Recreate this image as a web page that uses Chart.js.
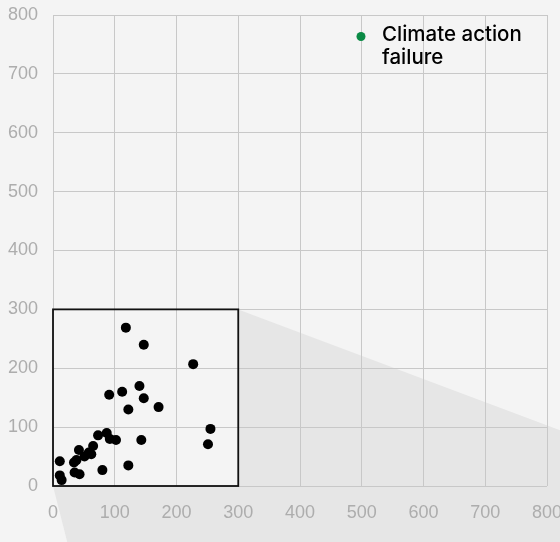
<!DOCTYPE html>
<html>
<head>
<meta charset="utf-8">
<script src="https://cdn.jsdelivr.net/npm/chart.js@4/dist/chart.umd.min.js"></script>
<style>
  html, body { margin: 0; padding: 0; background: #f4f4f4; }
  #wrap { width: 560px; height: 542px; position: relative; }
</style>
</head>
<body>
<div id="wrap"><canvas id="c" width="560" height="542"></canvas></div>
<script>
// ---- data ----
const seriesName = "Climate action failure";
const legendLines = ["Climate action", "failure"];
const xValues = [118, 147, 227, 91, 112, 140, 147, 122, 171, 255, 251, 143, 122,
                 80, 102, 92, 87, 73, 65, 62, 51, 42, 34, 43, 35, 11, 11, 14, 58, 38];
const yValues = [269, 240, 207, 155, 160, 170, 149, 130, 134, 97, 71, 78, 35,
                 27, 78, 80, 90, 86, 68, 54, 50, 61, 40, 20, 23, 42, 18, 10, 57, 44];
const axisTicks = [0, 100, 200, 300, 400, 500, 600, 700, 800];
// zoom window (data units) and where its projection lines head to
const zoomWindow = { xMin: 0, xMax: 300, yMin: 0, yMax: 300 };
const projTopRight = [800, 103];
const projBottomLeft = [23, -95];

const points = xValues.map((x, i) => ({ x: x, y: yValues[i] }));

const zoomPlugin = {
  id: 'zoomShade',
  beforeDraw(chart) {
    const ctx = chart.ctx, W = chart.width, H = chart.height;
    const xs = chart.scales.x, ys = chart.scales.y;
    ctx.save();
    ctx.fillStyle = '#f4f4f4';
    ctx.fillRect(0, 0, W, H);
    const A = { x: xs.getPixelForValue(zoomWindow.xMax), y: ys.getPixelForValue(zoomWindow.yMax) };
    const B = { x: xs.getPixelForValue(projTopRight[0]), y: ys.getPixelForValue(projTopRight[1]) };
    const C = { x: xs.getPixelForValue(zoomWindow.xMin), y: ys.getPixelForValue(zoomWindow.yMin) };
    const D = { x: xs.getPixelForValue(projBottomLeft[0]), y: ys.getPixelForValue(projBottomLeft[1]) };
    const tR = (W - A.x) / (B.x - A.x);
    const yR = A.y + tR * (B.y - A.y);
    const tL = (H - C.y) / (D.y - C.y);
    const xL = C.x + tL * (D.x - C.x);
    ctx.fillStyle = '#e6e6e6';
    ctx.beginPath();
    ctx.moveTo(C.x, C.y);
    ctx.lineTo(A.x, A.y);
    ctx.lineTo(W, yR);
    ctx.lineTo(W, H);
    ctx.lineTo(xL, H);
    ctx.closePath();
    ctx.fill();
    ctx.fillStyle = '#f4f4f4';
    ctx.fillRect(C.x, A.y, A.x - C.x, C.y - A.y);
    ctx.restore();
  },
  beforeDatasetsDraw(chart) {
    const ctx = chart.ctx;
    const xs = chart.scales.x, ys = chart.scales.y;
    const x0 = xs.getPixelForValue(zoomWindow.xMin), x1 = xs.getPixelForValue(zoomWindow.xMax);
    const y0 = ys.getPixelForValue(zoomWindow.yMin), y1 = ys.getPixelForValue(zoomWindow.yMax);
    ctx.save();
    ctx.strokeStyle = '#111111';
    ctx.lineWidth = 1.8;
    ctx.strokeRect(x0, y1, x1 - x0, y0 - y1);
    ctx.restore();
  },
  afterDraw(chart) {
    const ctx = chart.ctx;
    ctx.save();
    ctx.fillStyle = '#0a8a45';
    ctx.beginPath();
    ctx.arc(361, 36.5, 4.5, 0, Math.PI * 2);
    ctx.fill();
    ctx.fillStyle = '#000000';
    ctx.font = '500 20.5px Inter, "Liberation Sans", Arial, sans-serif';
    ctx.textBaseline = 'alphabetic';
    ctx.textAlign = 'left';
    legendLines.forEach((line, i) => ctx.fillText(line, 382, 40.5 + i * 23.6));
    ctx.restore();
  }
};

const tickFont = { family: '"Liberation Sans", Arial, sans-serif', size: 18, weight: 'normal' };

new Chart(document.getElementById('c'), {
  type: 'scatter',
  data: {
    datasets: [{
      label: seriesName,
      data: points,
      backgroundColor: '#000000',
      borderWidth: 0,
      pointRadius: 5,
      pointHoverRadius: 5
    }]
  },
  options: {
    responsive: false,
    animation: false,
    events: [],
    layout: { padding: { top: 15, right: 13, left: 0, bottom: 0 } },
    plugins: { legend: { display: false }, tooltip: { enabled: false } },
    scales: {
      x: {
        type: 'linear', min: 0, max: 800,
        afterBuildTicks: s => { s.ticks = axisTicks.map(v => ({ value: v })); },
        afterFit: s => { s.height = 56; s.paddingLeft = 0; s.paddingRight = 0; },
        grid: { color: '#c8c8c8', lineWidth: 1, drawTicks: false },
        border: { display: false },
        ticks: { color: '#adadad', font: tickFont, padding: 16, maxRotation: 0, autoSkip: false }
      },
      y: {
        type: 'linear', min: 0, max: 800,
        afterBuildTicks: s => { s.ticks = axisTicks.map(v => ({ value: v })); },
        afterFit: s => { s.width = 53; s.paddingTop = 0; s.paddingBottom = 0; },
        grid: { color: '#c8c8c8', lineWidth: 1, drawTicks: false },
        border: { display: false },
        ticks: { color: '#adadad', font: tickFont, padding: 15, autoSkip: false }
      }
    }
  },
  plugins: [zoomPlugin]
});
</script>
</body>
</html>
